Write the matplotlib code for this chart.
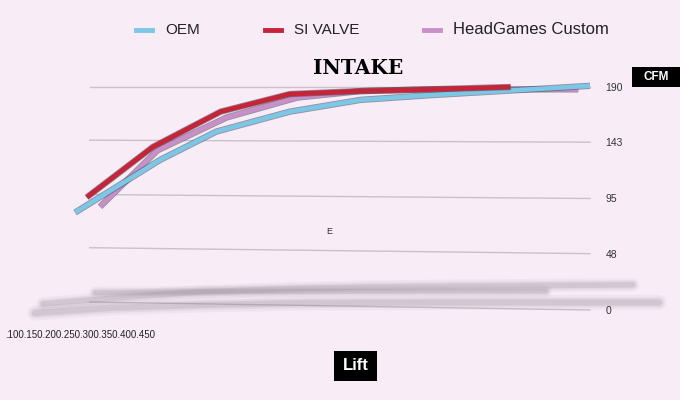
import matplotlib.pyplot as plt
import matplotlib.patheffects as pe
from matplotlib.patches import Rectangle
import numpy as np

# lift positions (perspective skews them a little)
oem_lift = [0.100, 0.158, 0.196, 0.246, 0.294, 0.341, 0.396, 0.450]
oem_cfm = [83, 128, 152, 169, 179, 183, 187, 191]

si_lift = [0.108, 0.153, 0.199, 0.246, 0.294, 0.341, 0.396]
si_cfm = [96, 139, 169, 184, 186.5, 188, 190]

hg_lift = [0.117, 0.156, 0.203, 0.251, 0.294, 0.341, 0.396, 0.442]
hg_cfm = [88, 136, 164, 181, 186.5, 188, 188, 188]

yticks = [0, 48, 95, 143, 190]
lift_labels = [".100", ".150", ".200", ".250", ".300", ".350", ".400", ".450"]

bg = "#f8ecf7"
c_oem = "#7cc6e6"
c_si = "#c42538"
c_hg = "#c98fc9"

fig = plt.figure(figsize=(6.8, 4), dpi=100, facecolor=bg)
ax = fig.add_axes([75 / 680, 90 / 400, 515 / 680, 223 / 400])
ax.set_facecolor(bg)
ax.set_xlim(0.1, 0.45)
ax.set_ylim(0, 190)
for s in ax.spines.values():
    s.set_visible(False)

# gridlines, the lower ones tilt a bit (perspective)
for v in yticks:
    tilt = (190 - v) / 190 * 6.8
    ax.plot([0.110, 0.450], [v + tilt, v], color="#cbc1cb", lw=1, zorder=1,
            clip_on=False)
ax.yaxis.tick_right()
ax.set_yticks(yticks)
ax.set_yticklabels([str(v) for v in yticks], fontsize=7.5, color="#333333",
                   family="Liberation Sans")
ax.tick_params(axis="y", length=0, pad=11)
ax.set_xticks([])


def shadow(lift, cfm, sx, ox, sy, oy, lw):
    x = 0.1 + (np.array(lift) - 0.1) * sx + ox
    y = np.array(cfm) * sy + oy
    for w, a in [(lw * 2.4, 0.07), (lw * 1.6, 0.11), (lw, 0.18)]:
        ax.plot(x, y, color="#857a86", lw=w, alpha=a, solid_capstyle="round",
                clip_on=False, zorder=1)


# blurry reflection under the chart
shadow(oem_lift, oem_cfm, 1.145, -0.0217, 0.15, -7.2, 4)
shadow(si_lift, si_cfm, 1.064, 0.0051, 0.01, 14, 3.5)
shadow(hg_lift, hg_cfm, 1.305, -0.0494, 0.09, -10.5, 4.5)

edge = [pe.Stroke(linewidth=4.6, foreground="#444a5a", alpha=0.55), pe.Normal()]
ax.plot(hg_lift, hg_cfm, color=c_hg, lw=3.3, path_effects=edge, zorder=3,
        clip_on=False, solid_capstyle="butt")
ax.plot(oem_lift, oem_cfm, color=c_oem, lw=3.3, path_effects=edge, zorder=4,
        clip_on=False, solid_capstyle="butt")
ax.plot(si_lift, si_cfm, color=c_si, lw=3.5, path_effects=edge, zorder=5,
        clip_on=False, solid_capstyle="butt")

# legend
items = [("OEM", c_oem, 136, 11), ("SI VALVE", c_si, 265, 11),
         ("HeadGames Custom", c_hg, 424, 12)]
for name, col, px, fs in items:
    fig.add_artist(plt.Line2D([px / 680, (px + 16) / 680], [370 / 400, 370 / 400],
                              color=col, lw=3.5))
    fig.text((px + 29) / 680, 370 / 400, name, fontsize=fs, family="Liberation Sans",
             va="center", ha="left", color="#222222")

fig.text(358 / 680, 332 / 400, "INTAKE", fontsize=14.5, fontweight="bold",
         family="DejaVu Serif", ha="center", va="center", color="black")

fig.add_artist(Rectangle((632 / 680, 313 / 400), 48 / 680, 20 / 400,
                         transform=fig.transFigure, fc="black", ec="none"))
fig.text(656 / 680, 323 / 400, "CFM", fontsize=8.5, fontweight="bold", color="white",
         family="Liberation Sans", ha="center", va="center")
fig.add_artist(Rectangle((334 / 680, 19 / 400), 43 / 680, 30 / 400,
                         transform=fig.transFigure, fc="black", ec="none"))
fig.text(356 / 680, 34 / 400, "Lift", fontsize=12, fontweight="bold", color="white",
         family="Liberation Sans", ha="center", va="center")

fig.text(329 / 680, 168 / 400, "E", fontsize=6.5, family="Liberation Sans",
         ha="center", va="center", color="#333333")
fig.text(5 / 680, 65 / 400, "".join(lift_labels), fontsize=7, family="Liberation Sans",
         ha="left", va="center", color="#222222")

fig.savefig("out.png", dpi=100, facecolor=bg)
